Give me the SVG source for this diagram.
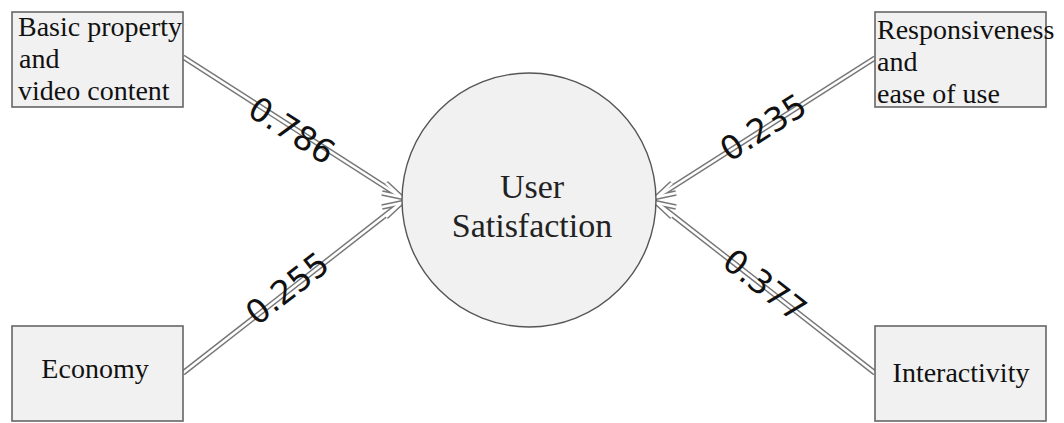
<svg xmlns="http://www.w3.org/2000/svg" width="1064" height="423" viewBox="0 0 1064 423">
  <defs>
    <style>
      .box { fill: #f1f1f1; stroke: #666; stroke-width: 1.6; }
      .hub { fill: #f1f1f1; stroke: #555; stroke-width: 1.4; }
      .lbl { font-family: "Liberation Serif", "Times New Roman", serif; font-size: 28px; fill: #111; }
      .hubtxt { font-family: "Liberation Serif", "Times New Roman", serif; font-size: 34px; fill: #222; text-anchor: middle; }
      .wt { font-family: "DejaVu Sans", Verdana, sans-serif; font-size: 33px; fill: #111; text-anchor: middle; }
      .edge-out { fill: none; stroke: #777; stroke-width: 5.5; stroke-linejoin: miter; stroke-linecap: butt; }
      .edge-in { fill: none; stroke: #ffffff; stroke-width: 2.6; stroke-linejoin: miter; stroke-linecap: butt; }
    </style>
  </defs>

  <rect width="1064" height="423" fill="#ffffff"/>

  <!-- connectors: hollow double-line arrows into the central node -->
  <g id="connectors">
    <g class="edge-out">
      <path d="M183,57 L401,197"/>
      <path d="M183,373 L401,203"/>
      <path d="M875,58 L657,197"/>
      <path d="M875,373 L657,203"/>
      <path d="M386,183 L401,197 L382,193"/>
      <path d="M382,207 L401,203 L386,217"/>
      <path d="M672,183 L657,197 L676,193"/>
      <path d="M676,207 L657,203 L672,217"/>
    </g>
    <g class="edge-in">
      <path d="M183,57 L401,197"/>
      <path d="M183,373 L401,203"/>
      <path d="M875,58 L657,197"/>
      <path d="M875,373 L657,203"/>
      <path d="M386,183 L401,197 L382,193"/>
      <path d="M382,207 L401,203 L386,217"/>
      <path d="M672,183 L657,197 L676,193"/>
      <path d="M676,207 L657,203 L672,217"/>
    </g>
    <text class="wt" transform="translate(292,130) rotate(32.7)" dy="0.36em">0.786</text>
    <text class="wt" transform="translate(287,288) rotate(-37.9)" dy="0.36em">0.255</text>
    <text class="wt" transform="translate(763,127) rotate(-32.5)" dy="0.36em">0.235</text>
    <text class="wt" transform="translate(765,285) rotate(37.9)" dy="0.36em">0.377</text>
  </g>

  <g id="node-basic">
    <rect class="box" x="12" y="12" width="171" height="95"/>
    <text class="lbl" x="18" y="36">Basic property</text>
    <text class="lbl" x="19" y="68">and</text>
    <text class="lbl" x="18" y="100">video content</text>
  </g>

  <g id="node-responsiveness">
    <rect class="box" x="875" y="12" width="171" height="95"/>
    <text class="lbl" x="877" y="39">Responsiveness</text>
    <text class="lbl" x="877" y="71">and</text>
    <text class="lbl" x="877" y="103">ease of use</text>
  </g>

  <g id="node-economy">
    <rect class="box" x="12" y="326" width="171" height="95"/>
    <text class="lbl" x="95" y="378" text-anchor="middle">Economy</text>
  </g>

  <g id="node-interactivity">
    <rect class="box" x="875" y="326" width="171" height="95"/>
    <text class="lbl" x="961" y="382" text-anchor="middle">Interactivity</text>
  </g>

  <g id="node-satisfaction">
    <circle class="hub" cx="529" cy="200" r="127"/>
    <text class="hubtxt" x="532" y="198">User</text>
    <text class="hubtxt" x="532" y="237">Satisfaction</text>
  </g>
</svg>
